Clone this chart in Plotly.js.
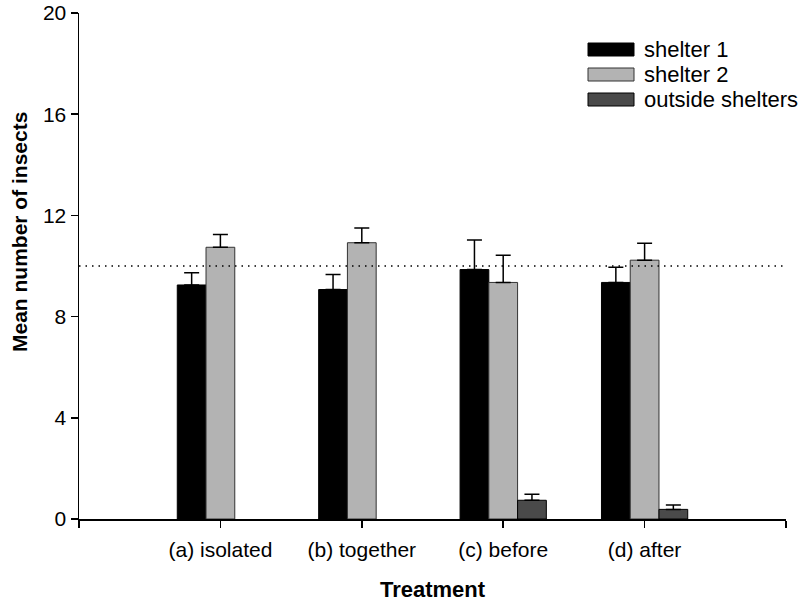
<!DOCTYPE html>
<html>
<head>
<meta charset="utf-8">
<script src="https://cdn.plot.ly/plotly-3.0.1.min.js"></script>
<style>html,body{margin:0;padding:0;background:#fff;}#chart{width:800px;height:602px;}</style>
</head>
<body>
<div id="chart"></div>
<script>
// ---- data ----
const categories = ["(a) isolated", "(b) together", "(c) before", "(d) after"];
const seriesNames = ["shelter 1", "shelter 2", "outside shelters"];
const shelter1 = [9.25, 9.07, 9.86, 9.35];
const shelter1Err = [0.48, 0.59, 1.17, 0.60];
const shelter2 = [10.74, 10.92, 9.35, 10.23];
const shelter2Err = [0.51, 0.58, 1.07, 0.67];
const outside = [null, null, 0.74, 0.38];
const outsideErr = [null, null, 0.24, 0.17];
const referenceLevel = 10;
const yTicks = [0, 4, 8, 12, 16, 20];

// ---- styling ----
const FONT = "'Liberation Sans', Arial, sans-serif";
const fills = ["#000000", "#b3b3b3", "#4a4a4a"];
const outlines = ["#000000", "#333333", "#000000"];
const xIdx = categories.map((c, i) => i);

function barTrace(i, vals, errs) {
  return {
    type: "bar",
    name: seriesNames[i],
    x: xIdx,
    y: vals,
    marker: { color: fills[i], line: { color: outlines[i], width: 1 } },
    error_y: {
      type: "data", symmetric: false,
      array: errs, arrayminus: errs.map(v => (v == null ? null : 0)),
      color: "#000", thickness: 1.5, width: 7.5
    },
    showlegend: false,
    hoverinfo: "none"
  };
}

const data = [
  barTrace(0, shelter1, shelter1Err),
  barTrace(1, shelter2, shelter2Err),
  barTrace(2, outside, outsideErr)
];

// plot area in pixels (for legend placement helpers)
const L = 79, R = 786, T = 13, B = 519;
const px = p => (p - L) / (R - L);
const py = p => (B - p) / (B - T);

const legendBoxes = [[43, 56], [68, 81], [93, 106]];
const legendText = [49.5, 74.5, 99.5];

const shapes = [
  { type: "line", xref: "paper", yref: "y", x0: 0, x1: 1, y0: referenceLevel, y1: referenceLevel,
    line: { color: "#000", width: 1.5, dash: "1.5px,5px" } }
];
legendBoxes.forEach((b, i) => {
  shapes.push({ type: "rect", xref: "paper", yref: "paper",
    x0: px(588), x1: px(634), y0: py(b[1]), y1: py(b[0]),
    fillcolor: fills[i], line: { color: outlines[i], width: 1 } });
});

const annotations = seriesNames.map((n, i) => ({
  xref: "paper", yref: "paper", x: px(642), y: py(legendText[i]),
  xanchor: "left", yanchor: "middle", text: n, showarrow: false,
  font: { family: FONT, size: 22, color: "#000" }
}));
annotations.push({
  xref: "paper", yref: "paper", x: px(19), y: py(232),
  xanchor: "center", yanchor: "middle", textangle: -90,
  text: "<b>Mean number of insects</b>", showarrow: false,
  font: { family: FONT, size: 21, color: "#000" }
});

const layout = {
  width: 800, height: 602,
  margin: { l: L, r: 800 - R, t: T, b: 602 - B },
  paper_bgcolor: "#fff", plot_bgcolor: "#fff",
  font: { family: FONT, color: "#000" },
  barmode: "group", bargap: 0.39, bargroupgap: 0,
  showlegend: false,
  xaxis: {
    type: "linear", range: [-1, categories.length],
    tickmode: "array", tickvals: [-1].concat(xIdx, [categories.length]),
    ticktext: [""].concat(categories, [""]),
    ticks: "outside", ticklen: 7, tickwidth: 1.5, tickcolor: "#000",
    ticklabelstandoff: 4,
    showline: true, linecolor: "#000", linewidth: 1.5,
    showgrid: false, zeroline: false,
    tickfont: { family: FONT, size: 21, color: "#000" },
    title: { text: "<b>Treatment</b>", font: { family: FONT, size: 22, color: "#000" }, standoff: 29 }
  },
  yaxis: {
    range: [0, 20], tickmode: "array", tickvals: yTicks,
    ticks: "outside", ticklen: 7, tickwidth: 1.5, tickcolor: "#000",
    ticklabeloverflow: "allow",
    showline: true, linecolor: "#000", linewidth: 1.5,
    showgrid: false, zeroline: false,
    tickfont: { family: FONT, size: 21, color: "#000" }
  },
  shapes: shapes,
  annotations: annotations
};

Plotly.newPlot("chart", data, layout, { staticPlot: true });
</script>
</body>
</html>
